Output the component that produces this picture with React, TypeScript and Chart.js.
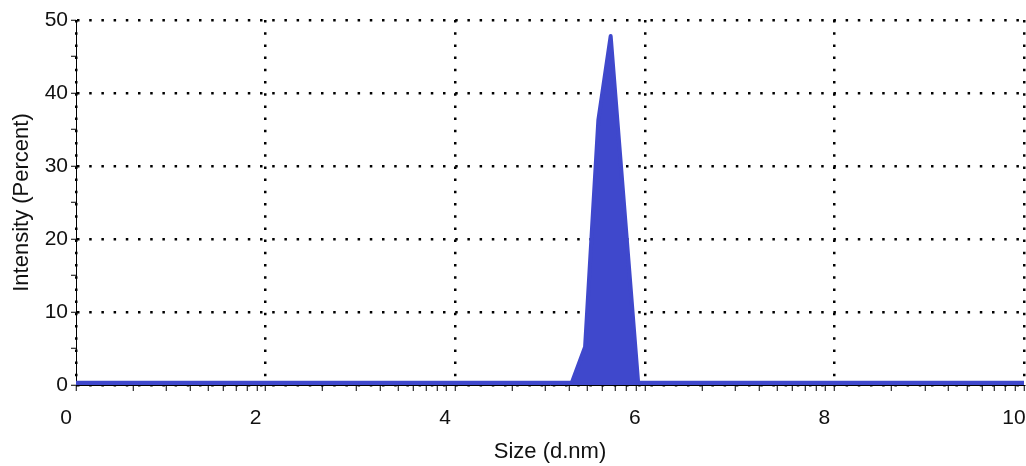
import React, { useEffect, useRef } from "react";
import { Chart, registerables } from "chart.js";

Chart.register(...registerables);

// Size distribution (displayed x units) and intensity (%)
const sizes = [0, 5.23, 5.37, 5.51, 5.64, 5.93, 10];
const intensity = [0.3, 0.3, 5.2, 36.3, 47.8, 0.3, 0.3];

const xMajorTicks = [0, 2, 4, 6, 8, 10];
const xTickLabels = ["0", "2", "4", "6", "8", "10"];
const xMinorFactors = [2, 3, 4, 5, 6, 7, 8, 9];
const yMajorTicks = [0, 10, 20, 30, 40, 50];
const yMinorTicks = [5, 15, 25, 35, 45];

const BLUE = "#3F48CC";
const FONT = "'Liberation Sans', Arial, sans-serif";

export default function App() {
  const ref = useRef<HTMLCanvasElement | null>(null);

  useEffect(() => {
    if (!ref.current) return;
    const points = sizes.map((x, i) => ({ x, y: intensity[i] }));
    const chart = new Chart(ref.current, {
      type: "scatter",
      data: {
        datasets: [
          {
            data: points,
            showLine: true,
            borderColor: BLUE,
            backgroundColor: BLUE,
            borderWidth: 4,
            borderJoinStyle: "round",
            fill: "origin",
            pointRadius: 0,
            pointHoverRadius: 0,
          },
        ],
      },
      options: {
        animation: false,
        responsive: false,
        maintainAspectRatio: false,
        events: [],
        layout: { padding: { left: 0, right: 2, top: 20, bottom: 0 } },
        plugins: { legend: { display: false }, tooltip: { enabled: false } },
        scales: {
          x: {
            type: "linear",
            min: 0,
            max: 10,
            z: 1,
            afterBuildTicks: (scale: any) => {
              const t: any[] = [];
              for (let i = 0; i < xMajorTicks.length; i++) {
                t.push({ value: xMajorTicks[i] });
                if (i < xMajorTicks.length - 1) {
                  const step = xMajorTicks[i + 1] - xMajorTicks[i];
                  for (const k of xMinorFactors) {
                    t.push({ value: xMajorTicks[i] + step * Math.log10(k) });
                  }
                }
              }
              scale.ticks = t;
            },
            afterFit: (scale: any) => {
              scale.height = 81;
              scale.paddingLeft = 0;
              scale.paddingRight = 0;
            },
            ticks: {
              autoSkip: false,
              maxRotation: 0,
              padding: 15,
              labelOffset: -10,
              color: "#111",
              font: { family: FONT, size: 21 },
              callback: (v: any) => {
                const idx = xMajorTicks.findIndex((m) => Math.abs(m - v) < 1e-9);
                return idx >= 0 ? xTickLabels[idx] : "";
              },
            },
            grid: {
              color: (ctx: any) =>
                ctx.tick && xMajorTicks.some((m) => Math.abs(m - ctx.tick.value) < 1e-9)
                  ? "#000"
                  : "rgba(0,0,0,0)",
              lineWidth: 2.5,
              tickColor: "#000",
              tickWidth: 1,
              tickLength: 6,
              tickBorderDash: [],
            },
            border: { display: true, color: "#000", width: 1, dash: [2.5, 9.7] },
            title: {
              display: true,
              text: "Size (d.nm)",
              color: "#111",
              font: { family: FONT, size: 22 },
              padding: { top: 0, bottom: 1 },
            },
          },
          y: {
            type: "linear",
            min: 0,
            max: 50,
            z: 1,
            afterBuildTicks: (scale: any) => {
              const vals = [...yMajorTicks, ...yMinorTicks].sort((a, b) => a - b);
              scale.ticks = vals.map((value) => ({ value }));
            },
            afterFit: (scale: any) => {
              scale.width = 76;
            },
            ticks: {
              autoSkip: false,
              padding: 3,
              color: "#111",
              font: { family: FONT, size: 21 },
              callback: (v: any) => (yMajorTicks.includes(v) ? String(v) : ""),
            },
            grid: {
              color: (ctx: any) =>
                ctx.tick && yMajorTicks.includes(ctx.tick.value) ? "#000" : "rgba(0,0,0,0)",
              lineWidth: 2.5,
              tickColor: "#000",
              tickWidth: 1,
              tickLength: 5,
              tickBorderDash: [],
            },
            border: { display: true, color: "#000", width: 1, dash: [2.5, 9.7] },
            title: {
              display: true,
              text: "Intensity (Percent)",
              color: "#111",
              font: { family: FONT, size: 22 },
              padding: { top: 9, bottom: 0 },
            },
          },
        },
      },
    });
    return () => chart.destroy();
  }, []);

  return (
    <div style={{ position: "absolute", left: 0, top: 0, width: 1026, height: 466, background: "#fff" }}>
      <canvas ref={ref} width={1026} height={466} style={{ width: 1026, height: 466 }} />
    </div>
  );
}
